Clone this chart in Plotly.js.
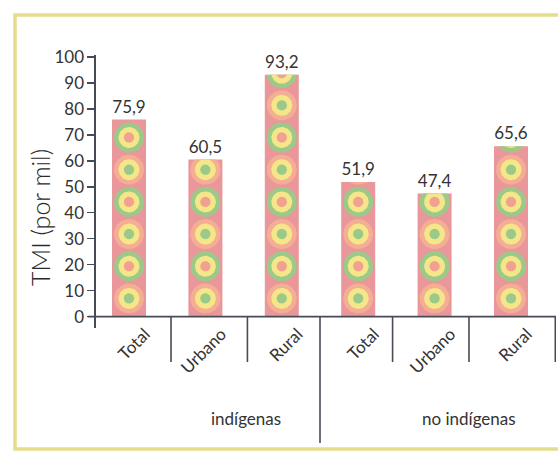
<!DOCTYPE html>
<html>
<head>
<meta charset="utf-8">
<script src="https://cdn.plot.ly/plotly-3.0.1.min.js"></script>
<style>html,body{margin:0;padding:0;background:#fff;}#chart{width:558px;height:454px;}</style>
</head>
<body>
<div id="chart"></div>
<script>
// ---- data ----
const categories = ['Total', 'Urbano', 'Rural', 'Total', 'Urbano', 'Rural'];
const groups = ['indígenas', 'no indígenas'];
const tmi = [75.9, 60.5, 93.2, 51.9, 47.4, 65.6];
const yTicks = [0, 10, 20, 30, 40, 50, 60, 70, 80, 90, 100];
const yTitle = 'TMI (por mil)';

// ---- layout geometry ----
const W = 558, H = 454;
const M = {l: 96, r: 2, t: 55, b: 126};
const xRange = [-0.432, 5.589];
const yRange = [-4.4, 100.8];
const plotW = W - M.l - M.r, plotH = H - M.t - M.b;
const pxX = plotW / (xRange[1] - xRange[0]);
const pxY = plotH / (yRange[1] - yRange[0]);
const xs = categories.map((c, i) => i);
const barWidth = 0.445;

// ---- circle pattern inside each bar ----
const C = {bar: '#e9979a', salmon: '#f4ae94', yellow: '#f5e68a', green: '#9bca88', center: '#f0a190'};
const ringR = [15, 10.5, 5.2]; // px
const firstC = 7.0, stepC = 12.4; // pattern spacing (value units)
function disc(cx, cy, rpx, top) {
  const rx = rpx / pxX, ry = rpx / pxY, px = [], py = [];
  for (let k = 0; k <= 60; k++) {
    const t = 2 * Math.PI * k / 60;
    px.push(cx + rx * Math.cos(t));
    py.push(Math.min(cy + ry * Math.sin(t), top));
  }
  return [px, py];
}
function layerTrace(color, ring, parity) {
  const X = [], Y = [];
  tmi.forEach((v, i) => {
    for (let k = 0; ; k++) {
      const cy = firstC + k * stepC;
      if (cy - ringR[ring] / pxY >= v) break;
      if (parity !== null && k % 2 !== parity) continue;
      const [px, py] = disc(xs[i], cy, ringR[ring], v);
      if (Math.min(...py) >= v) continue;
      X.push(...px, null); Y.push(...py, null);
    }
  });
  return {x: X, y: Y, type: 'scatter', mode: 'lines', fill: 'toself', fillcolor: color,
          line: {width: 0, color: color}, hoverinfo: 'skip', showlegend: false};
}

const traces = [
  {x: xs, y: tmi, type: 'bar', width: barWidth, marker: {color: C.bar, line: {width: 0}},
   texttemplate: '%{y:.1f}', textposition: 'outside', cliponaxis: false,
   textfont: {family: 'Lato, sans-serif', size: 17, color: '#333'}, showlegend: false, hoverinfo: 'skip'},
  layerTrace(C.salmon, 0, 0),
  layerTrace(C.green, 0, 1),
  layerTrace(C.yellow, 1, null),
  layerTrace(C.green, 2, 0),
  layerTrace(C.center, 2, 1)
];

const axisCol = '#474b55';
const bottomPx = H - M.b;
const shapes = [
  // x axis line
  {type: 'line', xref: 'paper', yref: 'y', x0: -0.018, x1: 1, y0: 0, y1: 0, line: {color: axisCol, width: 1.6}},
  // yellow frame
  {type: 'rect', xref: 'paper', yref: 'paper', x0: -(M.l - 15) / plotW, x1: 1.2,
   y0: -(449 - bottomPx) / plotH, y1: 1 + (M.t - 15) / plotH,
   line: {color: '#e5dd8c', width: 3.5}, fillcolor: 'rgba(0,0,0,0)'}
];
const zeroPaper = (0 - yRange[0]) / (yRange[1] - yRange[0]);
[0.55, 1.55, 2.5, 3.45, 4.45, 5.58].forEach((s, j) => {
  const long = j === 2;
  shapes.push({type: 'line', xref: 'x', yref: 'paper', x0: s, x1: s, y0: zeroPaper,
               y1: long ? -(443 - bottomPx) / plotH : -(362 - bottomPx) / plotH,
               line: {color: axisCol, width: 1.6}});
});

const annotations = groups.map((g, gi) => ({
  text: g, xref: 'x', yref: 'paper', x: gi * 2.92 + 1.53, y: -(418 - bottomPx) / plotH,
  xanchor: 'center', yanchor: 'middle', showarrow: false,
  font: {family: 'Lato, sans-serif', size: 17, color: '#333'}
}));
annotations.push({
  text: yTitle, textangle: -90, xref: 'paper', yref: 'paper',
  x: (40 - M.l) / plotW, y: (bottomPx - 218) / plotH, xanchor: 'center', yanchor: 'middle',
  showarrow: false, font: {family: 'Lato, sans-serif', size: 25, color: '#2a2a2a', weight: 300}
});

const layout = {
  width: W, height: H, margin: M, paper_bgcolor: '#fff', plot_bgcolor: '#fff',
  separators: ',.', showlegend: false, font: {family: 'Lato, sans-serif', color: '#333'},
  xaxis: {range: xRange, tickvals: xs, ticktext: categories, tickangle: -45, ticks: '',
          showgrid: false, zeroline: false, showline: false, ticklabelshift: 16, ticklabelstandoff: -8,
          tickfont: {size: 17, color: '#333'}, fixedrange: true},
  yaxis: {range: yRange, tickvals: yTicks, ticktext: yTicks.map(String), ticks: 'outside', ticklen: 7,
          tickcolor: axisCol, tickwidth: 1.4, showline: true, linecolor: axisCol, linewidth: 1.6,
          showgrid: false, zeroline: false, tickfont: {size: 17, color: '#333'}},
  shapes: shapes, annotations: annotations
};

Plotly.newPlot('chart', traces, layout, {staticPlot: true, displayModeBar: false});
</script>
</body>
</html>
